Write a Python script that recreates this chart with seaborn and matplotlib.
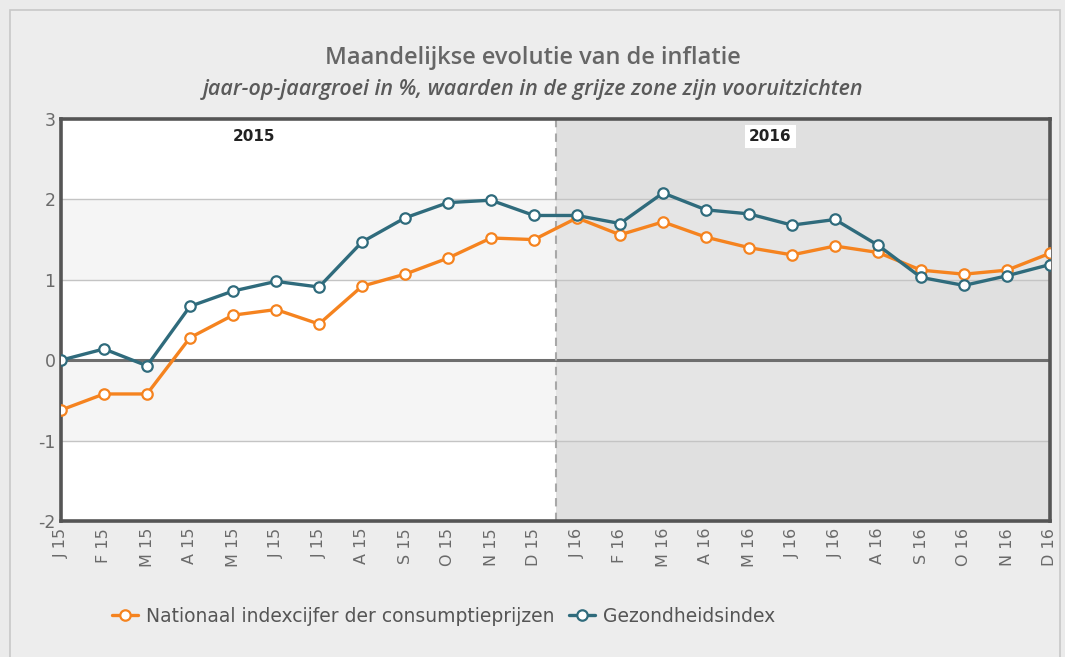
import matplotlib
matplotlib.use("Agg")
import matplotlib.pyplot as plt
import matplotlib.patches as mpatches
import pandas as pd
import seaborn as sns

months = ["J 15", "F 15", "M 15", "A 15", "M 15", "J 15", "J 15", "A 15", "S 15", "O 15", "N 15", "D 15",
          "J 16", "F 16", "M 16", "A 16", "M 16", "J 16", "J 16", "A 16", "S 16", "O 16", "N 16", "D 16"]
cpi = [-0.62, -0.42, -0.42, 0.28, 0.56, 0.63, 0.45, 0.92, 1.07, 1.27, 1.52, 1.50,
       1.77, 1.56, 1.72, 1.53, 1.40, 1.31, 1.42, 1.34, 1.12, 1.07, 1.12, 1.33]
gezondheid = [0.00, 0.14, -0.07, 0.67, 0.86, 0.98, 0.91, 1.47, 1.77, 1.96, 1.99, 1.80,
              1.80, 1.70, 2.08, 1.87, 1.82, 1.68, 1.75, 1.43, 1.03, 0.93, 1.05, 1.19]
series_names = ["Nationaal indexcijfer der consumptieprijzen", "Gezondheidsindex"]
years = ["2015", "2016"]

orange = "#f5831f"
teal = "#2f6b7c"

df = pd.DataFrame({"x": list(range(len(months))) * 2,
                   "waarde": cpi + gezondheid,
                   "reeks": [series_names[0]] * len(cpi) + [series_names[1]] * len(gezondheid)})

sns.set_style("white")
plt.rcParams["font.family"] = ["DejaVu Sans"]

fig = plt.figure(figsize=(10.65, 6.57), dpi=100)
fig.patch.set_facecolor("#ebebeb")
# outer frame
fig.patches.append(mpatches.Rectangle((10 / 1065, -0.01), 1050 / 1065, 1 - 10 / 657 + 0.01,
                                      transform=fig.transFigure, facecolor="#ededed",
                                      edgecolor="#c8c8c8", linewidth=1.2, zorder=-1))

ax = fig.add_axes([61 / 1065, 136 / 657, 989 / 1065, 402 / 657])
ax.set_facecolor("white")
n = len(months)
split = 11.5
ax.set_xlim(0, n - 1)
ax.set_ylim(-2, 3)

# alternating bands in 2015 part, grey forecast zone for 2016
for lo in range(-2, 3):
    shade = "#f5f5f5" if lo in (1, -1) else "white"
    ax.axhspan(lo, lo + 1, xmin=0, xmax=split / (n - 1), color=shade, zorder=0, lw=0)
    shade2 = "#e5e5e5" if lo in (1, -1) else "#e0e0e0"
    ax.axhspan(lo, lo + 1, xmin=split / (n - 1), xmax=1, color=shade2, zorder=0, lw=0)

for y in [-1, 1, 2]:
    ax.axhline(y, color="#c4c4c4", lw=1, zorder=1)
ax.axhline(0, color="#6e6e6e", lw=2.2, zorder=1)
ax.axvline(split, color="#a8a8a8", lw=1.5, ls=(0, (4, 3)), zorder=1)

sns.lineplot(data=df, x="x", y="waarde", hue="reeks", palette=[orange, teal], ax=ax,
             marker="o", markersize=7.5, markerfacecolor="white", markeredgewidth=1.6,
             linewidth=2.4, legend=False, zorder=3)
# make marker edges match line colour
for line in ax.get_lines()[-2:]:
    line.set_markeredgecolor(line.get_color())

ax.text(4.5, 2.78, years[0], ha="center", va="center", fontsize=11, color="#222222",
        fontweight="semibold")
ax.text(16.5, 2.78, years[1], ha="center", va="center", fontsize=11, color="#222222",
        fontweight="semibold", bbox=dict(facecolor="white", edgecolor="none", pad=3))

ax.set_xticks(range(n))
ax.set_xticklabels(months, rotation=90, fontsize=11.5, color="#6a6a6a")
ax.set_yticks(range(-2, 4))
ax.set_yticklabels([str(v) for v in range(-2, 4)], fontsize=12.5, color="#6a6a6a")
ax.tick_params(axis="both", length=0, pad=5)
ax.tick_params(axis="y", pad=4)
ax.set_xlabel("")
ax.set_ylabel("")
for s in ax.spines.values():
    s.set_color("#555555")
    s.set_linewidth(2.6)
    s.set_visible(True)

fig.text(0.5, 1 - 58 / 657, "Maandelijkse evolutie van de inflatie", ha="center", va="center",
         fontsize=17, color="#666666", fontweight="semibold", family="Open Sans")
fig.text(0.5, 1 - 90 / 657, "jaar-op-jaargroei in %, waarden in de grijze zone zijn vooruitzichten",
         ha="center", va="center", fontsize=15.5, color="#5a5a5a", style="italic",
         fontweight="semibold", family="Open Sans")

handles = [plt.Line2D([], [], color=c, lw=2.4, marker="o", markersize=7.5, markerfacecolor="white",
                      markeredgecolor=c, markeredgewidth=1.6) for c in [orange, teal]]
leg = fig.legend(handles, series_names, loc="center left", bbox_to_anchor=(95 / 1065, 1 - 616 / 657),
                 ncol=2, frameon=False, fontsize=13.5, handlelength=1.4, columnspacing=0.8,
                 handletextpad=0.4)
for t in leg.get_texts():
    t.set_color("#555555")

fig.savefig("out.png", dpi=100, facecolor=fig.get_facecolor())
